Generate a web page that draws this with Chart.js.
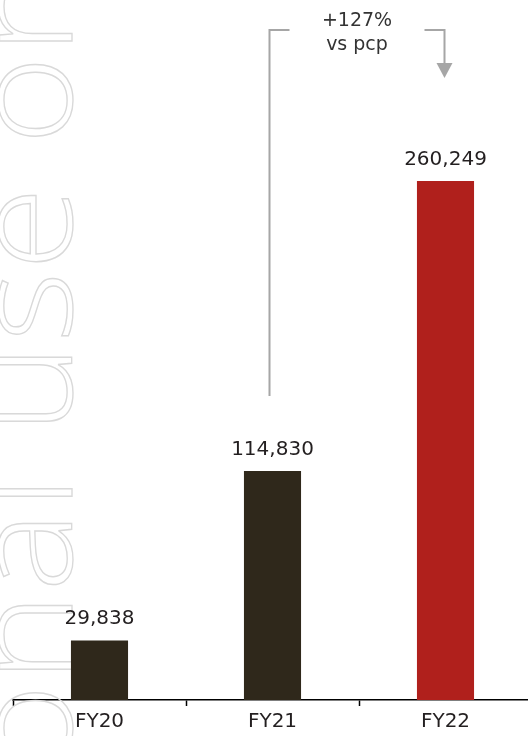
<!DOCTYPE html>
<html>
<head>
<meta charset="utf-8">
<script src="https://cdn.jsdelivr.net/npm/chart.js@4/dist/chart.umd.min.js"></script>
<style>
  html, body { margin: 0; padding: 0; background: #fff; }
  #wrap { width: 528px; height: 736px; overflow: hidden; position: relative; }
  canvas { display: block; }
</style>
</head>
<body>
<div id="wrap"><canvas id="revenueChart" width="532" height="736"></canvas></div>
<script>
const years = ["FY20", "FY21", "FY22"];
const revenue = [29838, 114830, 260249];
const barColors = ["#2f281b", "#2f281b", "#b0201c"];
const growthLabel = ["+127%", "vs pcp"];
const watermark = "For personal use only";

const textColor = "#231f20";
const labelFont = "20px 'DejaVu Sans', sans-serif";

// big outlined "personal use only" stamp running up the left edge
const watermarkPlugin = {
    id: "watermark",
    beforeDatasetsDraw(chart) {
        const ctx = chart.ctx;
        const stretch = 1.12;
        ctx.save();
        ctx.font = "300 136px 'Open Sans', sans-serif";
        ctx.letterSpacing = "1px";
        ctx.strokeStyle = "#d9d9d9";
        const lead = ctx.measureText("For personal use ").width * stretch;
        ctx.translate(72, 145 + lead);
        ctx.rotate(-Math.PI / 2);
        ctx.scale(stretch, 1);
        ctx.lineWidth = 1.5 / stretch;
        ctx.strokeText(watermark, 0, 0);
        ctx.restore();
    }
};

// value above each bar
const valueLabels = {
    id: "valueLabels",
    afterDatasetsDraw(chart) {
        const ctx = chart.ctx;
        const bars = chart.getDatasetMeta(0).data;
        ctx.save();
        ctx.font = labelFont;
        ctx.fillStyle = textColor;
        ctx.textAlign = "center";
        ctx.textBaseline = "alphabetic";
        bars.forEach((bar, i) => {
            ctx.fillText(revenue[i].toLocaleString("en-US"), bar.x, bar.y - 16);
        });
        ctx.restore();
    }
};

// bracket + arrow from FY21 to FY22 with the growth note
const growthArrow = {
    id: "growthArrow",
    afterDatasetsDraw(chart) {
        const ctx = chart.ctx;
        const xs = chart.scales.x, ys = chart.scales.y;
        const x1 = xs.getPixelForValue(1) - 3;
        const x2 = xs.getPixelForValue(2) - 1;
        const top = 30;
        const bottom = ys.getPixelForValue(revenue[1]) - 75;
        const mid = (x1 + x2) / 2;

        ctx.save();
        ctx.strokeStyle = "#a6a6a6";
        ctx.fillStyle = "#a6a6a6";
        ctx.lineWidth = 2;
        ctx.beginPath();
        ctx.moveTo(x1, bottom);
        ctx.lineTo(x1, top);
        ctx.lineTo(x1 + 20, top);
        ctx.moveTo(x2 - 20, top);
        ctx.lineTo(x2, top);
        ctx.lineTo(x2, 63);
        ctx.stroke();
        ctx.beginPath();
        ctx.moveTo(x2 - 8, 63);
        ctx.lineTo(x2 + 8, 63);
        ctx.lineTo(x2, 78);
        ctx.closePath();
        ctx.fill();

        ctx.font = "19px 'DejaVu Sans', sans-serif";
        ctx.fillStyle = "#333";
        ctx.textAlign = "center";
        ctx.textBaseline = "alphabetic";
        ctx.fillText(growthLabel[0], mid, 26);
        ctx.fillText(growthLabel[1], mid, 50);
        ctx.restore();
    }
};

new Chart(document.getElementById("revenueChart").getContext("2d"), {
    type: "bar",
    data: {
        labels: years,
        datasets: [{
            data: revenue,
            backgroundColor: barColors,
            borderWidth: 0,
            categoryPercentage: 0.33,
            barPercentage: 1
        }]
    },
    options: {
        responsive: false,
        animation: false,
        layout: { padding: { left: 13, right: 0, top: 0, bottom: -2 } },
        plugins: {
            legend: { display: false },
            tooltip: { enabled: false }
        },
        scales: {
            x: {
                grid: {
                    display: true,
                    drawOnChartArea: false,
                    tickLength: 6,
                    tickWidth: 1.5,
                    tickColor: "#000",
                    offset: true
                },
                border: { display: true, color: "#000", width: 1.5 },
                ticks: {
                    color: textColor,
                    font: { family: "'DejaVu Sans', sans-serif", size: 20, lineHeight: 1 },
                    padding: 6
                }
            },
            y: { display: false, min: 0, max: 351000 }
        }
    },
    plugins: [watermarkPlugin, valueLabels, growthArrow]
});
</script>
</body>
</html>
